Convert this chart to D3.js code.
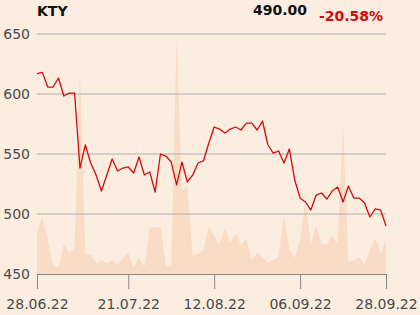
<!DOCTYPE html>
<html>
<head>
<meta charset="utf-8">
<script src="https://cdn.jsdelivr.net/npm/d3@7"></script>
<style>
  html, body { margin: 0; padding: 0; background: #fcede1; }
  #chart { width: 420px; height: 315px; }
  text { font-family: 'DejaVu Sans', sans-serif; }
</style>
</head>
<body>
<div id="chart"></div>
<script>
const ticker = 'KTY';
const lastPrice = '490.00';
const change = '-20.58%';

// trading days (28.06.22 - 28.09.22)
const dates = [
  '28.06.22', '29.06.22', '30.06.22',
  '01.07.22', '04.07.22', '05.07.22', '06.07.22', '07.07.22', '08.07.22',
  '11.07.22', '12.07.22', '13.07.22', '14.07.22', '15.07.22', '18.07.22',
  '19.07.22', '20.07.22', '21.07.22', '22.07.22', '25.07.22', '26.07.22',
  '27.07.22', '28.07.22', '29.07.22',
  '01.08.22', '02.08.22', '03.08.22', '04.08.22', '05.08.22', '08.08.22',
  '09.08.22', '10.08.22', '11.08.22', '12.08.22', '16.08.22', '17.08.22',
  '18.08.22', '19.08.22', '22.08.22', '23.08.22', '24.08.22', '25.08.22',
  '26.08.22', '29.08.22', '30.08.22', '31.08.22',
  '01.09.22', '02.09.22', '05.09.22', '06.09.22', '07.09.22', '08.09.22',
  '09.09.22', '12.09.22', '13.09.22', '14.09.22', '15.09.22', '16.09.22',
  '19.09.22', '20.09.22', '21.09.22', '22.09.22', '23.09.22', '26.09.22',
  '27.09.22', '28.09.22'
];

const prices = [
  617, 618, 605.8, 605.8, 613.3, 598.3, 600.8, 600.8, 538.3, 557.5,
  542.5, 532.5, 519.2, 532.5, 545.8, 535.8, 538.3, 539.2, 534.2, 547.5,
  532.5, 535, 518.3, 550, 548.3, 543.3, 524.2, 543.3, 526.7, 532.5,
  542.5, 544.2, 559.2, 572.5, 570.8, 567.5, 570.8, 572.5, 570, 575.8,
  575.8, 570, 577.5, 557.5, 550.8, 552.5, 542.5, 554.2, 528.3, 513.3,
  510, 503.3, 515.8, 517.5, 512.5, 519.2, 522.5, 510, 523.3, 513.3,
  513.3, 509.2, 497.5, 504.2, 503.3, 490
];

// volume, thousand shares (estimated)
const volumes = [
  42, 58, 34, 9, 6, 30, 21, 26, 202, 20,
  19, 11, 14, 11, 14, 9, 16, 21, 7, 16,
  7, 46, 47, 47, 9, 7, 236, 84, 88, 18,
  20, 24, 48, 38, 29, 46, 31, 40, 29, 35,
  14, 21, 17, 11, 14, 17, 59, 24, 16, 34,
  74, 29, 49, 30, 30, 38, 31, 150, 13, 13,
  17, 9, 24, 36, 21, 35
];

const yTicks = [450, 500, 550, 600, 650];
const xTicks = ['28.06.22', '21.07.22', '12.08.22', '06.09.22', '28.09.22'];

const margin = { top: 34, right: 34, bottom: 41, left: 37 };
const width = 420 - margin.left - margin.right;
const height = 315 - margin.top - margin.bottom;

const svg = d3
  .select('#chart')
  .append('svg')
  .attr('width', 420)
  .attr('height', 315);

const g = svg
  .append('g')
  .attr('transform', 'translate(' + margin.left + ',' + margin.top + ')');

const x = d3.scalePoint().domain(dates).range([0, width]);
const y = d3.scaleLinear().domain([450, 650]).range([height, 0]);
const yVol = d3.scaleLinear().domain([0, 240]).range([height, 0]);

// volume area behind everything
g.append('path')
  .datum(volumes)
  .attr('fill', '#f9dcc6')
  .attr('d', d3.area()
    .x((d, i) => x(dates[i]))
    .y0(height)
    .y1((d) => yVol(d)));

// gridlines
g.append('g')
  .selectAll('line')
  .data(yTicks.slice(1))
  .join('line')
  .attr('x1', 0)
  .attr('x2', width)
  .attr('y1', (d) => y(d))
  .attr('y2', (d) => y(d))
  .attr('stroke', '#b3b0ad')
  .attr('stroke-width', 1);

// y labels
const yAxis = g.append('g')
  .call(d3.axisLeft(y).tickValues(yTicks).tickSize(0).tickPadding(7));
yAxis.select('.domain').remove();
yAxis.selectAll('text')
  .style('font-size', '14px')
  .attr('fill', '#4a4a4a');

// x axis
const xAxis = g.append('g')
  .attr('transform', `translate(0, ${height})`)
  .call(d3.axisBottom(x).tickValues(xTicks).tickSize(15).tickSizeOuter(0).tickPadding(10));
xAxis.select('.domain').attr('stroke', '#8a8886');
xAxis.selectAll('.tick line').attr('stroke', '#8a8886');
xAxis.selectAll('text')
  .style('font-size', '14px')
  .attr('fill', '#4a4a4a');

// price line
g.append('path')
  .datum(prices)
  .attr('fill', 'none')
  .attr('stroke', '#d40b0b')
  .attr('stroke-width', 1.3)
  .attr('stroke-linejoin', 'round')
  .attr('d', d3.line()
    .x((d, i) => x(dates[i]))
    .y((d) => y(d)));

// header
svg.append('text')
  .attr('x', 37)
  .attr('y', 16)
  .style('font-size', '14px')
  .style('font-weight', 'bold')
  .attr('fill', '#111')
  .text(ticker);

svg.append('text')
  .attr('x', 307)
  .attr('y', 15)
  .attr('text-anchor', 'end')
  .style('font-size', '14px')
  .style('font-weight', 'bold')
  .attr('fill', '#111')
  .text(lastPrice);

svg.append('text')
  .attr('x', 383)
  .attr('y', 21)
  .attr('text-anchor', 'end')
  .style('font-size', '14px')
  .style('font-weight', 'bold')
  .attr('fill', '#d40b0b')
  .text(change);
</script>
</body>
</html>
